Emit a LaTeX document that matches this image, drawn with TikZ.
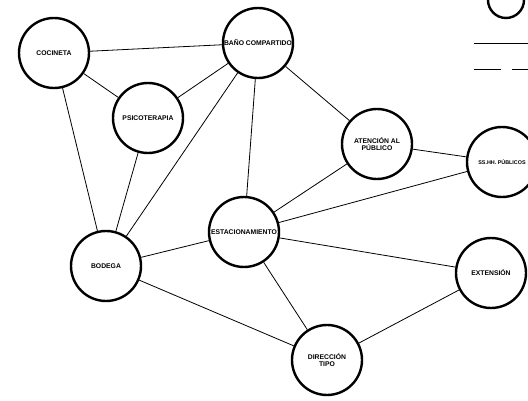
\documentclass[tikz,border=0pt]{standalone}
\usepackage{fontspec}
\setmainfont{Liberation Sans}
\usepackage{tikz}
\usetikzlibrary{positioning}

\begin{document}
\begin{tikzpicture}[
    x=1pt, y=-1pt,
    room/.style={circle, draw, fill=white, line width=2.4pt, minimum size=70pt,
                 inner sep=0pt, align=center, font=\fontsize{6.8}{7}\selectfont\bfseries},
    link/.style={line width=0.8pt},
]
\useasboundingbox (0,0) rectangle (528,401);
\clip (0,0) rectangle (528,401);

% rooms
\node[room] (cocineta)  at (54,53)   {COCINETA};
\node[room] (bano)      at (258,43)  {BAÑO COMPARTIDO};
\node[room] (psico)     at (148,118) {PSICOTERAPIA};
\node[room] (atencion)  at (377,144) {ATENCIÓN AL\\PÚBLICO};
\node[room, font=\fontsize{5.4}{6}\selectfont\bfseries] (sshh) at (502,162) {SS.HH. PÚBLICOS};
\node[room] (estac)     at (244,232) {ESTACIONAMIENTO};
\node[room] (bodega)    at (106,266) {BODEGA};
\node[room] (extension) at (491,273) {EXTENSIÓN};
\node[room] (direccion) at (327,360) {DIRECCIÓN\\TIPO};

% links
\draw[link] (cocineta) -- (bano);
\draw[link] (cocineta) -- (psico);
\draw[link] (cocineta) -- (bodega);
\draw[link] (psico) -- (bano);
\draw[link] (psico) -- (bodega);
\draw[link] (bano) -- (bodega);
\draw[link] (bano) -- (estac);
\draw[link] (bano) -- (atencion);
\draw[link] (atencion) -- (estac);
\draw[link] (atencion) -- (sshh);
\draw[link] (estac) -- (sshh);
\draw[link] (estac) -- (bodega);
\draw[link] (estac) -- (extension);
\draw[link] (estac) -- (direccion);
\draw[link] (bodega) -- (direccion);
\draw[link] (direccion) -- (extension);

% legend
\node[circle, draw, line width=2.4pt, minimum size=36pt] (legroom) at (506,0) {};
\coordinate (solidA) at (474,44);
\coordinate (solidB) at (530,44);
\coordinate (dashA) at (474,70);
\coordinate (dashB) at (530,70);
\draw[line width=1pt] (solidA) -- (solidB);
\draw[line width=1pt, dash pattern=on 27pt off 11pt] (dashA) -- (dashB);
\end{tikzpicture}
\end{document}
